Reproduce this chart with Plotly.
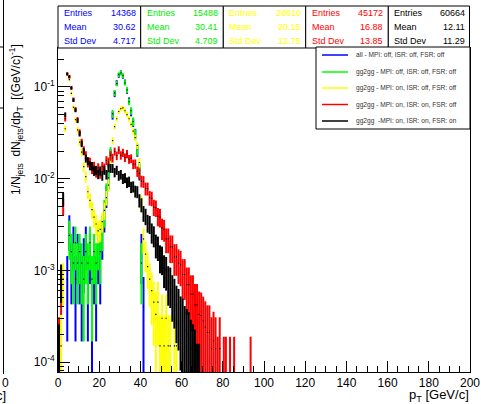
import numpy as np
import plotly.graph_objects as go

# ---------------- data (1 GeV bins, value per bin, None = empty) ----------------
bin_lo = 0.0  # first bin starts at 0 GeV, bins are 1 GeV wide

blue_vals = [None, None, None, None, 0.0008, 0.0028, 0.0012, 0.0020, 0.0008, 0.0016,
             0.0012, 0.0008, 0.0014, 0.0020, 0.0008, 0.0016, 0.0004, 0.0012, 0.0008, 0.0016,
             0.0012, 0.0024, 0.0040, 0.0066, 0.0098, 0.0180, 0.049, 0.084, 0.111, 0.134,
             0.143, 0.131, 0.113, 0.091, 0.071, 0.053, 0.041, 0.031, 0.0205, 0.0120,
             0.0016, 0.0004]
green_vals = [None, None, None, None, None, 0.0024, 0.0016, 0.0012, 0.0020, 0.0012,
              0.0016, 0.0012, 0.0008, 0.0016, 0.0012, 0.0020, 0.0008, 0.0016, 0.0012, 0.0020,
              0.0016, 0.0028, 0.0044, 0.0070, 0.0102, 0.0190, 0.051, 0.086, 0.109, 0.136,
              0.142, 0.133, 0.111, 0.093, 0.069, 0.055, 0.042, 0.0305, 0.0210, 0.0125,
              0.0012]
yellow_vals = [None, 0.00015, 0.0008, 0.035, 0.138, 0.120, 0.085, 0.060, 0.044, 0.034,
               0.025, 0.0195, 0.0135, 0.0105, 0.0072, 0.0058, 0.0046, 0.0038, 0.0032, 0.0027,
               0.0028, 0.0034, 0.0045, 0.0062, 0.0085, 0.0160, 0.026, 0.037, 0.045, 0.054,
               0.058, 0.059, 0.055, 0.050, 0.045, 0.039, 0.033, 0.028, 0.023, 0.0150,
               0.0055, 0.0022, 0.0015, 0.0011, 0.0008, 0.0006, 0.00045, 0.00033, 0.00045, 0.00015,
               0.0003, 0.00015, 0.0003, 0.00015, 0.00015, None, 0.00015, 0.00015]
red_vals = [0.00014, 0.0007, 0.0050, 0.045, 0.137, 0.128, 0.097, 0.073, 0.057, 0.044,
            0.032, 0.025, 0.0205, 0.0180, 0.0150, 0.0152, 0.0128, 0.0136, 0.0118, 0.0131,
            0.0115, 0.0136, 0.0130, 0.0158, 0.0152, 0.0180, 0.0168, 0.0198, 0.0178, 0.0205,
            0.0180, 0.0192, 0.0170, 0.0186, 0.0163, 0.0166, 0.0144, 0.0145, 0.0120, 0.0114,
            0.0094, 0.0093, 0.0078, 0.0078, 0.0062, 0.0061, 0.0049, 0.0048, 0.0039, 0.0038,
            0.0029, 0.0028, 0.0022, 0.0022, 0.0018, 0.0018, 0.0014, 0.0014, 0.0012, 0.00115,
            0.0009, 0.0009, 0.0007, 0.0007, 0.00055, 0.00055, 0.00042, 0.00042, 0.00033, 0.00032,
            0.00028, 0.00024, 0.00021, 0.00021, 0.00014, 0.00017, 0.00014, 0.00007, 0.00014, None,
            0.00007, 0.00007, None, 0.00007, None, 0.00007, None, None, None, None,
            None, None, None, 0.00007]
black_vals = [0.00012, 0.0008, 0.0060, 0.050, 0.140, 0.130, 0.098, 0.072, 0.056, 0.043,
              0.031, 0.024, 0.0198, 0.0166, 0.0156, 0.0138, 0.0137, 0.0121, 0.0124, 0.0112,
              0.0122, 0.0108, 0.0124, 0.0111, 0.0132, 0.0130, 0.0130, 0.0117, 0.0124, 0.0108,
              0.0111, 0.0100, 0.0102, 0.0091, 0.0093, 0.0081, 0.0082, 0.0073, 0.0072, 0.0058,
              0.0052, 0.0042, 0.0039, 0.0033, 0.0032, 0.0026, 0.0024, 0.0019, 0.0018, 0.0014,
              0.00135, 0.00105, 0.0010, 0.00076, 0.00073, 0.00058, 0.00052, 0.00042, 0.00038, 0.0003,
              0.00028, 0.00022, 0.0002, 0.00018, 0.00014, 0.00012, 0.0001, 0.00006, 0.00006]

# one-entry weight of each histogram (for Poisson error bars)
unit_weight = {"blue": 5e-4, "green": 5e-4, "yellow": 2e-4, "red": 2e-4, "black": 1.6e-4}

series_names = ["all - MPI: off, ISR: off, FSR: off",
                "gg2gg - MPI: off, ISR: off, FSR: off",
                "gg2gg - MPI: on, ISR: off, FSR: off",
                "gg2gg - MPI: on, ISR: on, FSR: off",
                "gg2gg  -MPI: on, ISR: on, FSR: on"]
series_keys = ["blue", "green", "yellow", "red", "black"]
series_colors = ["#0000ff", "#00ff00", "#ffff00", "#ff0000", "#000000"]
series_values = [blue_vals, green_vals, yellow_vals, red_vals, black_vals]

stat_entries = ["14368", "15488", "28610", "45172", "60664"]
stat_means = ["30.62", "30.41", "20.15", "16.88", "12.11"]
stat_stds = ["4.717", "4.709", "12.75", "13.85", "11.29"]
stat_text_colors = ["#0000ff", "#00ee00", "#ffff00", "#ff0000", "#000000"]

x_ticks = [0, 20, 40, 60, 80, 100, 120, 140, 160, 180, 200]
y_ticks = [1e-4, 1e-3, 1e-2, 1e-1]
y_ticktext = ["10<sup>-4</sup>", "10<sup>-3</sup>", "10<sup>-2</sup>", "10<sup>-1</sup>"]

# ---------------- geometry ----------------
W, H = 481, 404
L, R, T, B = 58, 11, 48, 32
PW, PH = W - L - R, H - T - B


def px(x):
    return (x - L) / PW


def py(y):
    return (H - B - y) / PH


FONT = "Liberation Sans, Arial, Helvetica, sans-serif"

fig = go.Figure()

for key, name, col, vals in zip(series_keys, series_names, series_colors, series_values):
    xs, ys = [], []
    for i, v in enumerate(vals):
        if v is None:
            continue
        xs.append(bin_lo + i + 0.5)
        ys.append(v)
    ys = np.array(ys)
    err = np.sqrt(ys * unit_weight[key])
    fig.add_trace(go.Scatter(
        x=xs, y=ys, mode="markers", name=name, showlegend=False, hoverinfo="skip",
        marker=dict(size=1.2, color="black", symbol="square", line=dict(width=0)),
        error_y=dict(type="data", array=err, visible=True, color=col, thickness=2, width=0),
    ))

minor_x = [v for v in range(5, 200, 5) if v % 20 != 0]
minor_y = [m * 10.0 ** e for e in range(-5, 0) for m in range(2, 10)]

fig.update_layout(
    template="none",
    width=W, height=H,
    margin=dict(l=L, r=R, t=T, b=B, pad=0, autoexpand=False),
    paper_bgcolor="white", plot_bgcolor="white",
    font=dict(family=FONT, size=12, color="black"),
    showlegend=False,
    hovermode=False,
    xaxis=dict(range=[0, 200], automargin=False, showgrid=False, zeroline=False, showline=True,
               linecolor="black", linewidth=1, mirror=True, tickmode="array", tickvals=x_ticks,
               ticktext=[str(v) for v in x_ticks], ticks="inside", ticklen=11, tickcolor="black",
               tickwidth=1, tickfont=dict(family=FONT, size=12, color="black"),
               minor=dict(tickmode="array", tickvals=minor_x, ticks="inside", ticklen=6,
                          tickcolor="black", tickwidth=1, showgrid=False)),
    yaxis=dict(type="log", range=[-4.109, -0.575], automargin=False, showgrid=False,
               zeroline=False, showline=True, linecolor="black", linewidth=1, mirror=True,
               tickmode="array", tickvals=y_ticks, ticktext=y_ticktext, ticks="inside",
               ticklen=12, tickcolor="black", tickwidth=1,
               tickfont=dict(family=FONT, size=12, color="black"),
               minor=dict(tickmode="array", tickvals=minor_y, ticks="inside", ticklen=6,
                          tickcolor="black", tickwidth=1, showgrid=False)),
)

shapes = []
annotations = []

# stats boxes
edges = [58, 140.7, 223.3, 305.7, 388.3, 469.5]
rows_y = [13, 27, 41]
for i in range(5):
    x0, x1 = edges[i], edges[i + 1]
    shapes.append(dict(type="rect", xref="paper", yref="paper", x0=px(x0), x1=px(x1),
                       y0=py(48), y1=py(6), line=dict(color="black", width=1),
                       fillcolor="white", layer="above"))
    for lab, val, yy in zip(["Entries", "Mean", "Std Dev"],
                            [stat_entries[i], stat_means[i], stat_stds[i]], rows_y):
        annotations.append(dict(x=px(x0 + 4), y=py(yy), xref="paper", yref="paper", text=lab,
                                showarrow=False, xanchor="left", yanchor="middle",
                                font=dict(family=FONT, size=9, color=stat_text_colors[i])))
        annotations.append(dict(x=px(x1 - 3), y=py(yy), xref="paper", yref="paper", text=val,
                                showarrow=False, xanchor="right", yanchor="middle",
                                font=dict(family=FONT, size=9, color=stat_text_colors[i])))

# legend box
shapes.append(dict(type="rect", xref="paper", yref="paper", x0=px(316), x1=px(470),
                   y0=py(129), y1=py(47), line=dict(color="black", width=1),
                   fillcolor="white", layer="above"))
leg_rows = [55, 72, 88, 104.5, 121]
for name, col, yy in zip(series_names, series_colors, leg_rows):
    shapes.append(dict(type="line", xref="paper", yref="paper", x0=px(322), x1=px(348),
                       y0=py(yy), y1=py(yy), line=dict(color=col, width=1.5), layer="above"))
    annotations.append(dict(x=px(354), y=py(yy), xref="paper", yref="paper", text=name,
                            showarrow=False, xanchor="left", yanchor="middle",
                            font=dict(family=FONT, size=6.6, color="#333333")))

# axis titles
annotations.append(dict(x=px(471), y=py(396), xref="paper", yref="paper",
                        text="p<sub>T</sub> [GeV/c]", showarrow=False, xanchor="right",
                        yanchor="middle", font=dict(family=FONT, size=13)))
annotations.append(dict(x=px(16), y=py(120), xref="paper", yref="paper",
                        text="1/N<sub>jets</sub>  dN<sub>jets</sub>/dp<sub>T</sub>  [(GeV/c)<sup>-1</sup>]",
                        showarrow=False, textangle=-90, xanchor="center", yanchor="middle",
                        font=dict(family=FONT, size=12)))

# fragments of the neighbouring pad on the left edge
shapes.append(dict(type="line", xref="paper", yref="paper", x0=px(3.5), x1=px(3.5),
                   y0=py(374), y1=py(0), line=dict(color="black", width=1)))
for yy in [47, 108]:
    shapes.append(dict(type="line", xref="paper", yref="paper", x0=px(0), x1=px(3.5),
                       y0=py(yy), y1=py(yy), line=dict(color="black", width=1)))
annotations.append(dict(x=px(0), y=py(383), xref="paper", yref="paper", text="0",
                        showarrow=False, xanchor="left", yanchor="middle",
                        font=dict(family=FONT, size=12)))
annotations.append(dict(x=px(8), y=py(396), xref="paper", yref="paper", text="c]",
                        showarrow=False, xanchor="right", yanchor="middle",
                        font=dict(family=FONT, size=13)))

fig.update_layout(shapes=shapes, annotations=annotations)
fig.write_html("out.html", config={"displayModeBar": False, "staticPlot": True},
               post_script="document.body.style.margin='0';document.body.style.overflow='hidden';")
